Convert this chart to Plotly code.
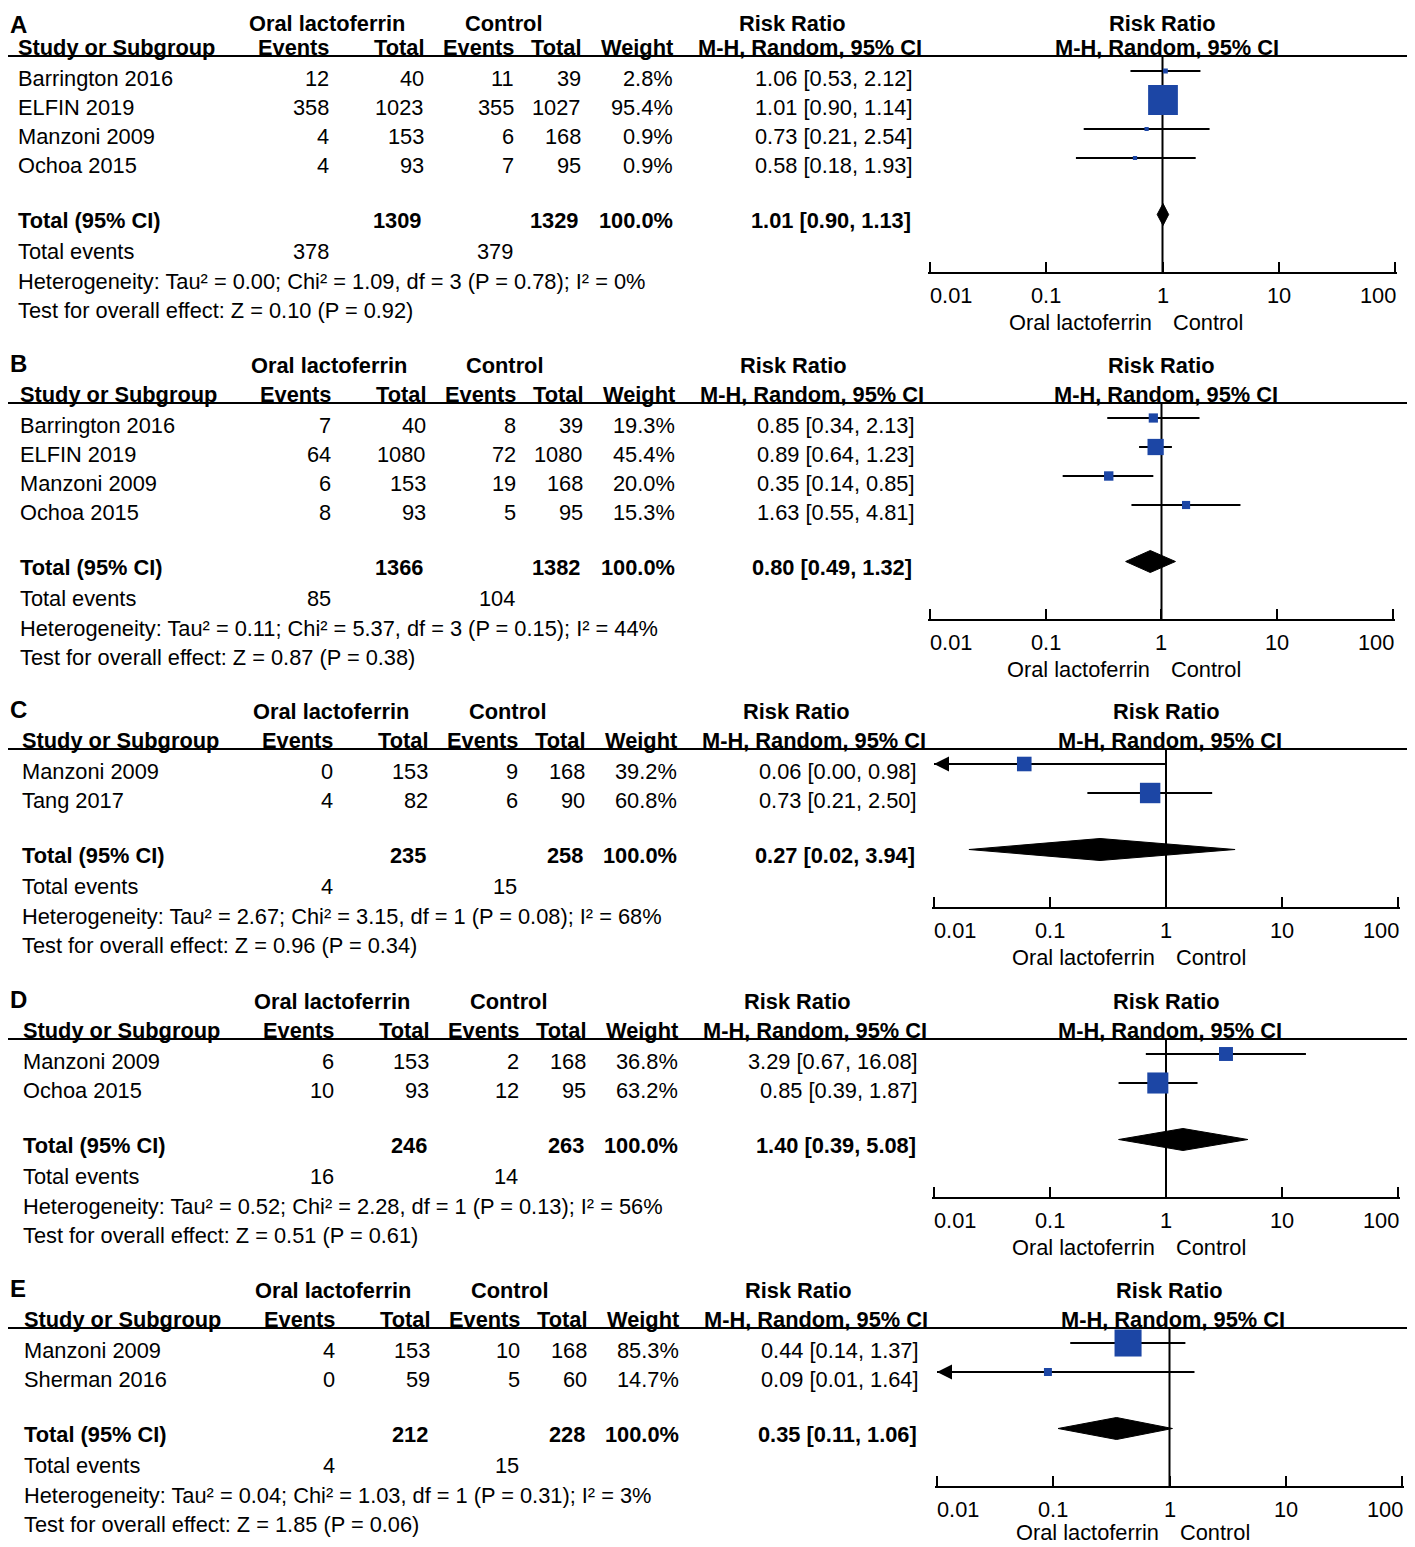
import plotly.graph_objects as go
import numpy as np

W, H = 1415, 1547
OFF = 8                      # page body margin compensation
FW, FH = W - OFF, H - OFF    # figure size
FONT = "Arial, Liberation Sans, Helvetica, sans-serif"
FS = 21.8
BLUE = "#1c46a5"

# ---------------- data ----------------
A_study = ["Barrington 2016", "ELFIN 2019", "Manzoni 2009", "Ochoa 2015"]
A_lf_events = [12, 358, 4, 4]
A_lf_total = [40, 1023, 153, 93]
A_ct_events = [11, 355, 6, 7]
A_ct_total = [39, 1027, 168, 95]
A_weight = [2.8, 95.4, 0.9, 0.9]
A_rr = [1.06, 1.01, 0.73, 0.58]
A_lo = [0.53, 0.90, 0.21, 0.18]
A_hi = [2.12, 1.14, 2.54, 1.93]
A_pooled = [1.01, 0.90, 1.13]
A_sum_total = [1309, 1329]
A_sum_events = [378, 379]
A_het = "Heterogeneity: Tau² = 0.00; Chi² = 1.09, df = 3 (P = 0.78); I² = 0%"
A_test = "Test for overall effect: Z = 0.10 (P = 0.92)"

B_study = ["Barrington 2016", "ELFIN 2019", "Manzoni 2009", "Ochoa 2015"]
B_lf_events = [7, 64, 6, 8]
B_lf_total = [40, 1080, 153, 93]
B_ct_events = [8, 72, 19, 5]
B_ct_total = [39, 1080, 168, 95]
B_weight = [19.3, 45.4, 20.0, 15.3]
B_rr = [0.85, 0.89, 0.35, 1.63]
B_lo = [0.34, 0.64, 0.14, 0.55]
B_hi = [2.13, 1.23, 0.85, 4.81]
B_pooled = [0.80, 0.49, 1.32]
B_sum_total = [1366, 1382]
B_sum_events = [85, 104]
B_het = "Heterogeneity: Tau² = 0.11; Chi² = 5.37, df = 3 (P = 0.15); I² = 44%"
B_test = "Test for overall effect: Z = 0.87 (P = 0.38)"

C_study = ["Manzoni 2009", "Tang 2017"]
C_lf_events = [0, 4]
C_lf_total = [153, 82]
C_ct_events = [9, 6]
C_ct_total = [168, 90]
C_weight = [39.2, 60.8]
C_rr = [0.06, 0.73]
C_lo = [0.00, 0.21]
C_hi = [0.98, 2.50]
C_pooled = [0.27, 0.02, 3.94]
C_sum_total = [235, 258]
C_sum_events = [4, 15]
C_het = "Heterogeneity: Tau² = 2.67; Chi² = 3.15, df = 1 (P = 0.08); I² = 68%"
C_test = "Test for overall effect: Z = 0.96 (P = 0.34)"

D_study = ["Manzoni 2009", "Ochoa 2015"]
D_lf_events = [6, 10]
D_lf_total = [153, 93]
D_ct_events = [2, 12]
D_ct_total = [168, 95]
D_weight = [36.8, 63.2]
D_rr = [3.29, 0.85]
D_lo = [0.67, 0.39]
D_hi = [16.08, 1.87]
D_pooled = [1.40, 0.39, 5.08]
D_sum_total = [246, 263]
D_sum_events = [16, 14]
D_het = "Heterogeneity: Tau² = 0.52; Chi² = 2.28, df = 1 (P = 0.13); I² = 56%"
D_test = "Test for overall effect: Z = 0.51 (P = 0.61)"

E_study = ["Manzoni 2009", "Sherman 2016"]
E_lf_events = [4, 0]
E_lf_total = [153, 59]
E_ct_events = [10, 5]
E_ct_total = [168, 60]
E_weight = [85.3, 14.7]
E_rr = [0.44, 0.09]
E_lo = [0.14, 0.01]
E_hi = [1.37, 1.64]
E_pooled = [0.35, 0.11, 1.06]
E_sum_total = [212, 228]
E_sum_events = [4, 15]
E_het = "Heterogeneity: Tau² = 0.04; Chi² = 1.03, df = 1 (P = 0.31); I² = 3%"
E_test = "Test for overall effect: Z = 1.85 (P = 0.06)"

tick_vals = [0.01, 0.1, 1, 10, 100]
tick_text = ["0.01", "0.1", "1", "10", "100"]
AX_MIN = 0.01

panels = [
    dict(letter="A", study=A_study, e1=A_lf_events, t1=A_lf_total, e2=A_ct_events, t2=A_ct_total,
         w=A_weight, rr=A_rr, lo=A_lo, hi=A_hi, pooled=A_pooled, st=A_sum_total, se=A_sum_events,
         het=A_het, test=A_test),
    dict(letter="B", study=B_study, e1=B_lf_events, t1=B_lf_total, e2=B_ct_events, t2=B_ct_total,
         w=B_weight, rr=B_rr, lo=B_lo, hi=B_hi, pooled=B_pooled, st=B_sum_total, se=B_sum_events,
         het=B_het, test=B_test),
    dict(letter="C", study=C_study, e1=C_lf_events, t1=C_lf_total, e2=C_ct_events, t2=C_ct_total,
         w=C_weight, rr=C_rr, lo=C_lo, hi=C_hi, pooled=C_pooled, st=C_sum_total, se=C_sum_events,
         het=C_het, test=C_test),
    dict(letter="D", study=D_study, e1=D_lf_events, t1=D_lf_total, e2=D_ct_events, t2=D_ct_total,
         w=D_weight, rr=D_rr, lo=D_lo, hi=D_hi, pooled=D_pooled, st=D_sum_total, se=D_sum_events,
         het=D_het, test=D_test),
    dict(letter="E", study=E_study, e1=E_lf_events, t1=E_lf_total, e2=E_ct_events, t2=E_ct_total,
         w=E_weight, rr=E_rr, lo=E_lo, hi=E_hi, pooled=E_pooled, st=E_sum_total, se=E_sum_events,
         het=E_het, test=E_test),
]

# ---------------- layout constants (page pixels) ----------------
P_TOP = [18, 365, 711, 1001, 1290]
P_DX = [0, 1.5, 4, 5, 6]
P_AX = [(930, 1395), (930, 1393), (934, 1398), (934, 1398), (937, 1402)]
ROW_H = 29
COL = dict(name=18, ev1=328, tot1=423, ev2=513, tot2=580, wt=672, ci=912,
           h_lf=327, h_ct=503, h_rr=792, h_mh=810)
EPS = 0.016  # range padding (~2px) so plotly keeps the end ticks
SHIFT = {"left": -2, "right": 3, "center": 0}   # compensate annotation box padding


def px(x):
    return (x - OFF) / FW


fig = go.Figure()
ann = []
shapes = []


def txt(x, y, s, anchor="left", bold=False, size=FS, yanchor="middle"):
    ann.append(dict(xref="paper", yref="y", x=px(x), y=y, xshift=SHIFT[anchor],
                    text=f"<b>{s}</b>" if bold else s, showarrow=False,
                    xanchor=anchor, yanchor=yanchor,
                    font=dict(family=FONT, size=size, color="black")))


layout_axes = {}
for i, p in enumerate(panels):
    k = i + 1
    xa = "x" if k == 1 else f"x{k}"
    top = P_TOP[i]
    dx = P_DX[i]
    ax0, ax1 = P_AX[i]
    pad = EPS * (ax1 - ax0) / 4
    h2 = top + 29
    line_y = top + 38
    rows = [top + 60 + ROW_H * j for j in range(len(p["study"]))]
    tot_y = rows[-1] + 55.5
    tev_y = tot_y + 31
    het_y = tot_y + 61
    test_y = tot_y + 90
    axis_y = tot_y + 52

    # first header row; the very top one is pinned to the page top edge
    if i == 0:
        hy, hya = OFF + 0.5, "top"
    else:
        hy, hya = top, "middle"
    # side labels under the axis; the very last ones are pinned to the page bottom
    if i == len(panels) - 1:
        sy, sya = H - 0.5, "bottom"
    else:
        sy, sya = axis_y + 49.5, "middle"

    # panel letter and headers
    ann.append(dict(xref="paper", yref="y", x=0, y=(OFF + 0.5) if i == 0 else top - 2,
                    text=f"<b>{p['letter']}</b>", showarrow=False, xanchor="left",
                    yanchor="top" if i == 0 else "middle",
                    font=dict(family=FONT, size=24, color="black")))
    txt(COL["h_lf"] + dx, hy, "Oral lactoferrin", anchor="center", bold=True, yanchor=hya)
    txt(COL["h_ct"] + dx, hy, "Control", anchor="center", bold=True, yanchor=hya)
    txt(COL["h_rr"] + dx, hy, "Risk Ratio", anchor="center", bold=True, yanchor=hya)
    txt(COL["name"] + dx, h2, "Study or Subgroup", bold=True)
    txt(COL["ev1"] + dx, h2, "Events", anchor="right", bold=True)
    txt(COL["tot1"] + dx, h2, "Total", anchor="right", bold=True)
    txt(COL["ev2"] + dx, h2, "Events", anchor="right", bold=True)
    txt(COL["tot2"] + dx, h2, "Total", anchor="right", bold=True)
    txt(COL["wt"] + dx, h2, "Weight", anchor="right", bold=True)
    txt(COL["h_mh"] + dx, h2, "M-H, Random, 95% CI", anchor="center", bold=True)
    for s, yy, ya, sh in [("Risk Ratio", hy, hya, 0), ("M-H, Random, 95% CI", h2, "middle", 4)]:
        ann.append(dict(xref=f"{xa} domain", yref="y", x=0.5, y=yy, text=f"<b>{s}</b>",
                        showarrow=False, xanchor="center", yanchor=ya, xshift=sh,
                        font=dict(family=FONT, size=FS, color="black")))

    shapes.append(dict(type="line", xref="paper", yref="y", x0=0, x1=1, y0=line_y, y1=line_y,
                       line=dict(color="black", width=2)))

    # study rows
    for j, yy in enumerate(rows):
        txt(COL["name"] + dx, yy, p["study"][j])
        txt(COL["ev1"] + dx, yy, str(p["e1"][j]), anchor="right")
        txt(COL["tot1"] + dx, yy, str(p["t1"][j]), anchor="right")
        txt(COL["ev2"] + dx, yy, str(p["e2"][j]), anchor="right")
        txt(COL["tot2"] + dx, yy, str(p["t2"][j]), anchor="right")
        txt(COL["wt"] + dx, yy, f"{p['w'][j]:.1f}%", anchor="right")
        txt(COL["ci"] + dx, yy, f"{p['rr'][j]:.2f} [{p['lo'][j]:.2f}, {p['hi'][j]:.2f}]", anchor="right")

    # totals
    txt(COL["name"] + dx, tot_y, "Total (95% CI)", bold=True)
    txt(COL["tot1"] - 2 + dx, tot_y, str(p["st"][0]), anchor="right", bold=True)
    txt(COL["tot2"] - 2 + dx, tot_y, str(p["st"][1]), anchor="right", bold=True)
    txt(COL["wt"] + dx, tot_y, f"{sum(p['w']):.1f}%", anchor="right", bold=True)
    pe, pl, ph = p["pooled"]
    txt(COL["ci"] - 2 + dx, tot_y, f"{pe:.2f} [{pl:.2f}, {ph:.2f}]", anchor="right", bold=True)
    txt(COL["name"] + dx, tev_y, "Total events")
    txt(COL["ev1"] + dx, tev_y, str(p["se"][0]), anchor="right")
    txt(COL["ev2"] - 1 + dx, tev_y, str(p["se"][1]), anchor="right")
    txt(COL["name"] + dx, het_y, p["het"])
    txt(COL["name"] + dx, test_y, p["test"])

    # ---- forest plot ----
    fig.add_trace(go.Scatter(x=[1, 1], y=[line_y, axis_y], mode="lines",
                             line=dict(color="black", width=2), xaxis=xa, yaxis="y",
                             hoverinfo="skip", showlegend=False))
    cx, cy = [], []
    for j, yy in enumerate(rows):
        lo = max(p["lo"][j], AX_MIN)
        cx += [lo, p["hi"][j], None]
        cy += [yy - 7, yy - 7, None]
        if p["lo"][j] <= AX_MIN:
            ann.append(dict(xref=xa, yref="y", x=np.log10(AX_MIN), y=yy - 7,
                            axref=xa, ayref="y", ax=np.log10(AX_MIN) + 0.08, ay=yy - 7,
                            showarrow=True, arrowhead=2, arrowsize=1.5, arrowwidth=2,
                            arrowcolor="black", text="", standoff=0))
    fig.add_trace(go.Scatter(x=cx, y=cy, mode="lines", line=dict(color="black", width=2),
                             xaxis=xa, yaxis="y", hoverinfo="skip", showlegend=False))
    fig.add_trace(go.Scatter(x=p["rr"], y=[yy - 7 for yy in rows], mode="markers",
                             marker=dict(symbol="square", color=BLUE, opacity=1,
                                         size=[4 + 0.27 * w for w in p["w"]],
                                         line=dict(width=0)),
                             opacity=1, xaxis=xa, yaxis="y", hoverinfo="skip", showlegend=False))
    dy = tot_y - 6
    fig.add_trace(go.Scatter(x=[pl, pe, ph, pe, pl], y=[dy, dy - 11, dy, dy + 11, dy],
                             mode="lines", fill="toself", fillcolor="black",
                             line=dict(color="black", width=1),
                             xaxis=xa, yaxis="y", hoverinfo="skip", showlegend=False))

    # tick labels (ends aligned inward like the original)
    for v, t in zip(tick_vals, tick_text):
        anc = "left" if v == tick_vals[0] else ("right" if v == tick_vals[-1] else "center")
        ann.append(dict(xref=xa, yref="y", x=np.log10(v), y=axis_y + 23, text=t,
                        showarrow=False, xanchor=anc, yanchor="middle", xshift=SHIFT[anc],
                        font=dict(family=FONT, size=FS, color="black")))
    ann.append(dict(xref=xa, yref="y", x=0, y=sy, text="Oral lactoferrin",
                    showarrow=False, xanchor="right", yanchor=sya, xshift=-9,
                    font=dict(family=FONT, size=FS, color="black")))
    ann.append(dict(xref=xa, yref="y", x=0, y=sy, text="Control",
                    showarrow=False, xanchor="left", yanchor=sya, xshift=8,
                    font=dict(family=FONT, size=FS, color="black")))

    key = "xaxis" if k == 1 else f"xaxis{k}"
    layout_axes[key] = dict(type="log", range=[-2 - EPS, 2 + EPS],
                            domain=[px(ax0 - pad), px(ax1 + pad)],
                            anchor="free", position=1 - (axis_y - OFF) / FH,
                            showline=True, linecolor="black", linewidth=2,
                            ticks="inside", ticklen=10, tickwidth=2, tickcolor="black",
                            tickvals=tick_vals, ticktext=tick_text, showticklabels=False,
                            showgrid=False, zeroline=False, fixedrange=True, automargin=False)

fig.update_layout(
    width=FW, height=FH,
    margin=dict(l=0, r=0, t=0, b=0, pad=0, autoexpand=False),
    paper_bgcolor="white", plot_bgcolor="rgba(0,0,0,0)",
    yaxis=dict(range=[H, OFF], domain=[0, 1], visible=False, anchor="free", position=0,
               fixedrange=True, automargin=False),
    annotations=ann, shapes=shapes, showlegend=False,
    **layout_axes,
)

fig.write_html("out.html")
